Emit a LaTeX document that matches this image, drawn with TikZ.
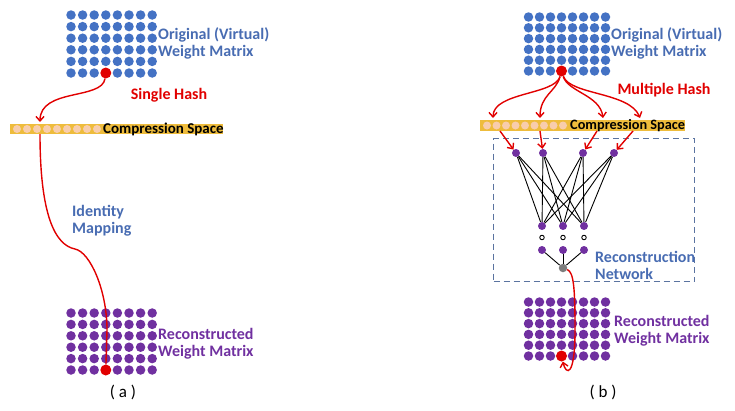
\documentclass[tikz,border=0pt]{standalone}
\usepackage{fontspec}
\setmainfont{Carlito}
\usetikzlibrary{arrows.meta}
\definecolor{wblue}{RGB}{68,114,196}
\definecolor{lblue}{RGB}{72,108,178}
\definecolor{wpurple}{RGB}{112,48,160}
\definecolor{hred}{RGB}{225,0,0}
\definecolor{cgold}{RGB}{238,188,60}
\definecolor{cpeach}{RGB}{248,205,172}
\definecolor{nbox}{RGB}{90,115,160}
\definecolor{ngray}{RGB}{125,125,125}

\begin{document}
\begin{tikzpicture}[x=1pt, y=-1pt,
  bdot/.style={circle, fill=wblue, inner sep=0pt, minimum size=9.5pt},
  pdot/.style={circle, fill=wpurple, inner sep=0pt, minimum size=9.5pt},
  rdot/.style={circle, fill=hred, inner sep=0pt, minimum size=11pt},
  cdot/.style={circle, fill=cpeach, inner sep=0pt, minimum size=8pt},
  neuron/.style={circle, fill=wpurple, inner sep=0pt, minimum size=8pt},
  gap/.style={circle, draw=black, line width=0.9pt, inner sep=0pt, minimum size=4.5pt},
  bar/.style={fill=cgold, inner sep=0pt, minimum height=10.5pt, anchor=west},
  hash/.style={draw=hred, line width=1.4pt, -{Straight Barb[length=4.5pt, width=8pt]}},
  lbl/.style={font=\bfseries\fontsize{16}{17}\selectfont, align=left, anchor=west, inner sep=0pt},
  sublbl/.style={font=\fontsize{17}{17}\selectfont, inner sep=0pt},
  link/.style={draw=black, line width=0.9pt},
]
\useasboundingbox (0,0) rectangle (735,410);

\foreach \i in {0,...,7} \foreach \j in {0,...,5} {
  \node[bdot] (oa-\i-\j) at ({71+11.6*\i},{15+11.6*\j}) {};
  \node[pdot] (ra-\i-\j) at ({71+11.6*\i},{313+11.4*\j}) {};
  \node[bdot] (ob-\i-\j) at ({528.5+11*\i},{17+10.8*\j}) {};
  \node[pdot] (rb-\i-\j) at ({528.5+11*\i},{302+10.8*\j}) {};
}
\node[rdot] (ha) at (oa-3-5) {};
\node[rdot] (hb) at (ra-3-5) {};
\node[rdot] (hc) at (ob-3-5) {};
\node[rdot] (hd) at (rb-3-5) {};

\node[lbl, text=lblue] (la) at (158,43.5) {Original (Virtual)\\Weight Matrix};
\node[lbl, text=wpurple] (lb) at (158,343.5) {Reconstructed\\Weight Matrix};
\node[lbl, text=lblue] (lc) at (611,43) {Original (Virtual)\\Weight Matrix};
\node[lbl, text=wpurple] (ld) at (614,331) {Reconstructed\\Weight Matrix};
\node[lbl, text=hred, anchor=center] (sh) at (169,95) {Single Hash};
\node[lbl, text=hred, anchor=center] (mh) at (664,90) {Multiple Hash};
\node[lbl, text=lblue] (im) at (72,221) {Identity\\Mapping};
\node[sublbl] (a) at (123,392) {( a )};
\node[sublbl] (b) at (603,392) {( b )};

\node[bar, minimum width=213pt] (ca) at (10,129) {};
\foreach \k in {0,...,8} \node[cdot] (ca\k) at ({17+10*\k},129) {};
\node[lbl, text=black, font=\bfseries\fontsize{15}{17}\selectfont] (cta) at (103,129) {Compression Space};

\node[bar, minimum width=205pt] (cb) at (480,125.5) {};
\foreach \k in {0,...,8} \node[cdot] (cb\k) at ({487+9.5*\k},125.5) {};
\node[lbl, text=black, font=\bfseries\fontsize{14.3}{17}\selectfont] (ctb) at (570,125.5) {Compression Space};

\coordinate (ta) at (40,122);
\coordinate (sa) at (40,134);
\draw[hash] (ha) .. controls (102,100) and (40,88) .. (ta);
\draw[hred, line width=1.4pt] (sa) .. controls (40,215) and (55,245) .. (75,249) .. controls (90,252) and (107,290) .. (107,330) -- (hb);

\node[draw=nbox, dashed, dash pattern=on 6pt off 4pt, line width=1pt, minimum width=201pt, minimum height=143pt, anchor=north west] (net) at (493,138) {};
\node[lbl, text=lblue] (rn) at (595,265.5) {Reconstruction\\Network};

\coordinate (t1) at (493,118);
\coordinate (t2) at (540,118);
\coordinate (t3) at (603,118);
\coordinate (t4) at (640,118);
\coordinate (s1) at (500,131);
\coordinate (s2) at (540,131);
\coordinate (s3) at (597,131);
\coordinate (s4) at (633,131);

\node[neuron] (n1) at (516,153) {};
\node[neuron] (n2) at (543,153) {};
\node[neuron] (n3) at (583,153) {};
\node[neuron] (n4) at (614,153) {};
\node[neuron] (m1) at (542,226) {};
\node[neuron] (m2) at (563,226) {};
\node[neuron] (m3) at (584,226) {};
\node[gap] (g1) at (542,237.5) {};
\node[gap] (g2) at (563,237.5) {};
\node[gap] (g3) at (584,237.5) {};
\node[neuron] (k1) at (542,250) {};
\node[neuron] (k2) at (563,250) {};
\node[neuron] (k3) at (584,250) {};
\node[circle, fill=ngray, inner sep=0pt, minimum size=8.5pt] (out) at (563,268) {};

\draw[hash] (hc) .. controls (555,95) and (493,92) .. (t1);
\draw[hash] (hc) .. controls (556,92) and (540,95) .. (t2);
\draw[hash] (hc) .. controls (568,92) and (600,95) .. (t3);
\draw[hash] (hc) .. controls (570,95) and (630,92) .. (t4);
\draw[hash] (s1) -- (n1);
\draw[hash] (s2) -- (n2);
\draw[hash] (s3) -- (n3);
\draw[hash] (s4) -- (n4);

\foreach \a in {1,...,4} \foreach \b in {1,2,3} \draw[link] (n\a) -- (m\b);
\foreach \b in {1,2,3} \draw[link] (k\b) -- (out);

\draw[hash] (out) .. controls (574,272) and (575,290) .. (575,330) .. controls (575,378) and (566,375) .. (hd);

\end{tikzpicture}
\end{document}
